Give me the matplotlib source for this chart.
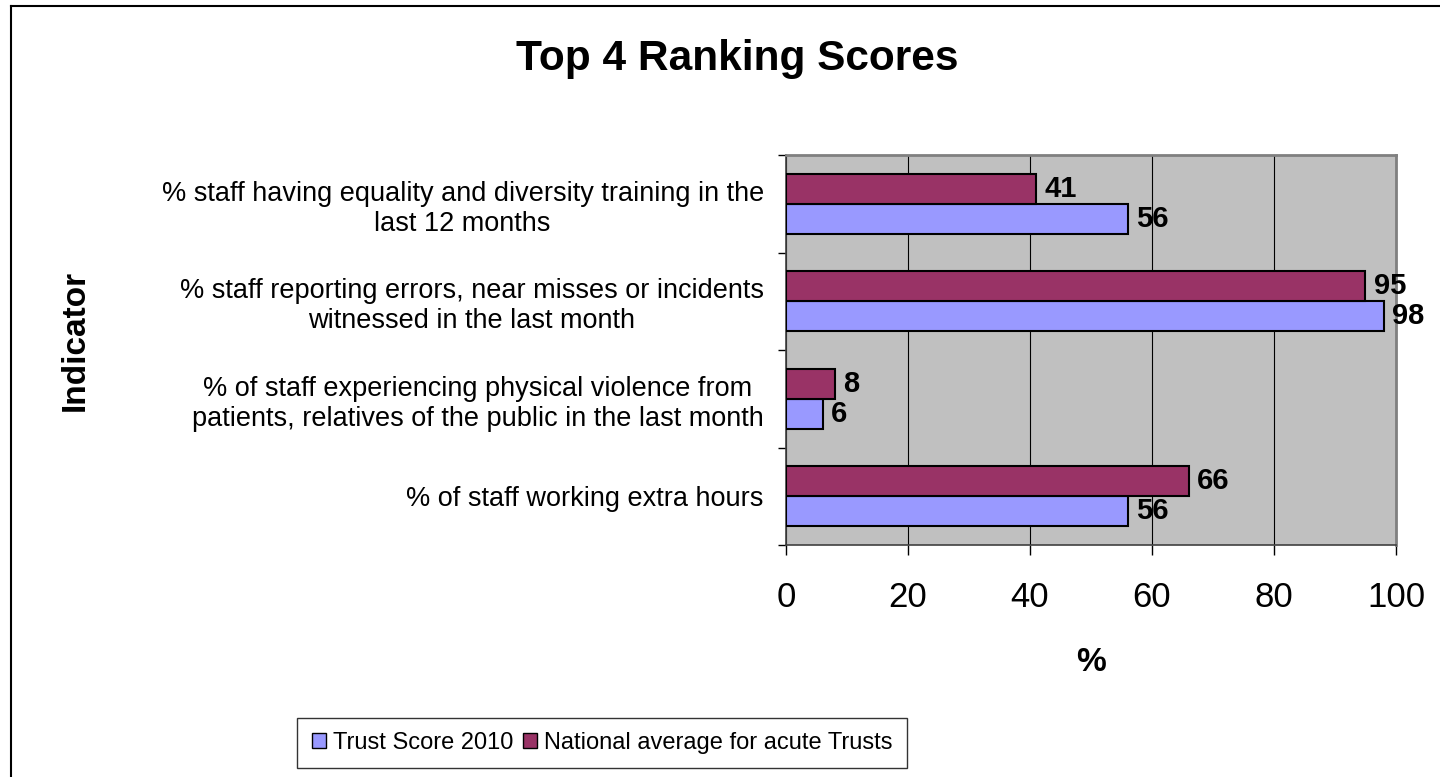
import matplotlib.pyplot as plt
from matplotlib.lines import Line2D
from matplotlib.patches import Patch

plt.rcParams['font.family'] = ['Liberation Sans', 'DejaVu Sans']

# categories bottom to top
categories = [
	"% of staff working extra hours",
	"% of staff experiencing physical violence from\npatients, relatives of the public in the last month",
	"% staff reporting errors, near misses or incidents\nwitnessed in the last month",
	"% staff having equality and diversity training in the\nlast 12 months",
]
trust_score = [56, 6, 98, 56]
national_avg = [66, 8, 95, 41]
series_names = ["Trust Score 2010", "National average for acute Trusts"]
xticks = [0, 20, 40, 60, 80, 100]

trust_col = "#9999FF"
nat_col = "#993366"

fig = plt.figure(figsize=(14.4, 7.77), dpi=100)
ax = fig.add_axes([786/1440, 1 - 545/777, 610/1440, 390/777])
ax.set_facecolor("#C0C0C0")

y = list(range(len(categories)))
h = 0.31
b1 = ax.barh([i - h/2 for i in y], trust_score, height=h, color=trust_col, edgecolor="black", linewidth=1.5, zorder=3)
b2 = ax.barh([i + h/2 for i in y], national_avg, height=h, color=nat_col, edgecolor="black", linewidth=1.5, zorder=3)

for bars, vals in [(b1, trust_score), (b2, national_avg)]:
	for bar, v in zip(bars, vals):
		ax.text(v + 1.4, bar.get_y() + bar.get_height()/2, str(v), va="center", ha="left",
				fontsize=21, fontweight="bold", zorder=4)

ax.set_xlim(0, 100)
ax.set_ylim(-0.5, len(categories) - 0.5)
ax.set_xticks(xticks)
ax.set_xticklabels([str(t) for t in xticks], fontsize=25)
ax.tick_params(axis="x", direction="out", length=7, width=1, pad=19)
ax.grid(axis="x", color="black", linewidth=0.8, zorder=1)

# category boundaries as major ticks, labels on minor ticks
ax.set_yticks([i - 0.5 for i in range(len(categories) + 1)])
ax.set_yticklabels([])
ax.tick_params(axis="y", which="major", direction="out", length=6, width=1)
ax.set_yticks(y, minor=True)
ax.set_yticklabels(categories, minor=True, fontsize=19.5, multialignment="center", linespacing=1.2)
ax.tick_params(axis="y", which="minor", length=0, pad=16)

for s in ["top", "right"]:
	ax.spines[s].set_color("#808080")
	ax.spines[s].set_linewidth(2)
for s in ["left", "bottom"]:
	ax.spines[s].set_color("#404040")
	ax.spines[s].set_linewidth(1.2)

ax.set_xlabel("%", fontsize=24, fontweight="bold", labelpad=24)
fig.text(75/1440, 1 - 340/777, "Indicator", rotation=90, fontsize=24, fontweight="bold",
		 ha="center", va="center")
fig.text(737/1440, 1 - 59/777, "Top 4 Ranking Scores", fontsize=30.5, fontweight="bold",
		 ha="center", va="center")

handles = [Patch(facecolor=trust_col, edgecolor="black"), Patch(facecolor=nat_col, edgecolor="black")]
leg = fig.legend(handles, series_names, loc="center", bbox_to_anchor=(602/1440, 1 - 743/777),
				 ncol=2, fontsize=17, frameon=True, fancybox=False, edgecolor="black",
				 handlelength=0.6, handleheight=0.6, handletextpad=0.3, columnspacing=0.4,
				 borderpad=0.6, borderaxespad=0)
leg.get_frame().set_linewidth(1)

# outer chart border (top and left visible)
fig.add_artist(Line2D([11/1440, 1], [1 - 6/777, 1 - 6/777], transform=fig.transFigure, color="black", linewidth=1.5))
fig.add_artist(Line2D([11/1440, 11/1440], [0, 1 - 6/777], transform=fig.transFigure, color="black", linewidth=1.5))

fig.savefig("out.png", dpi=100)
